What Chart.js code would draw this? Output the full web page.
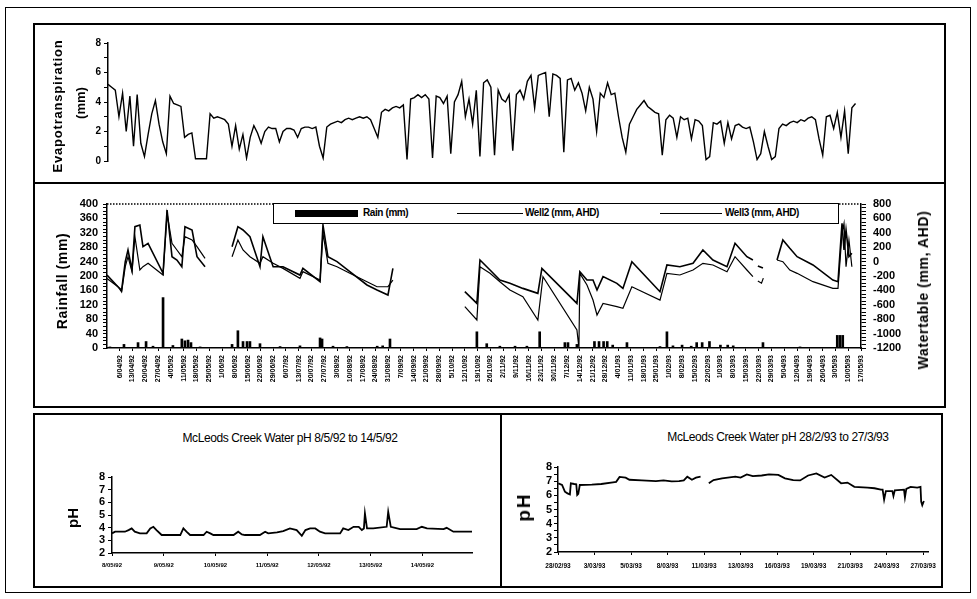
<!DOCTYPE html>
<html>
<head>
<meta charset="utf-8">
<title>Evapotranspiration, rainfall, watertable and creek pH</title>
<script src="https://cdn.jsdelivr.net/npm/chart.js@4.4.1/dist/chart.umd.min.js"></script>
<style>
  html, body { margin: 0; padding: 0; background: #fff; }
  #page { position: relative; width: 977px; height: 599px; overflow: hidden; color: #000;
    font-family: "Liberation Sans", Arial, Helvetica, sans-serif; }
  .frame { position: absolute; border: 2px solid #000; box-sizing: border-box; }
  .box { position: absolute; }
  .vlabel { position: absolute; transform: translate(-50%, -50%) rotate(-90deg); white-space: nowrap; font-weight: bold; }
  .title { position: absolute; transform: translate(-50%, -50%); white-space: nowrap; font-size: 12px; letter-spacing: -0.4px; }
  #legend { position: absolute; z-index: 2; left: 273px; top: 203px; width: 566px; height: 21px;
    border: 1.5px solid #000; box-sizing: border-box; background: #fff; }
  #legend .sw { position: absolute; background: #000; }
  #legend .lt { position: absolute; top: 3px; font-size: 10px; font-weight: bold; letter-spacing: -0.4px; white-space: nowrap; }
</style>
</head>
<body>
<div id="page">
  <div class="frame" style="left:5px;top:7px;width:966px;height:586px;border-width:1.5px"></div>
  <div class="frame" style="left:33px;top:23px;width:913px;height:161px"></div>
  <div class="frame" style="left:33px;top:182px;width:913px;height:226px"></div>
  <div class="frame" style="left:33px;top:413px;width:469px;height:175px"></div>
  <div class="frame" style="left:500px;top:413px;width:443px;height:175px"></div>

  <div class="box" style="left:33px;top:23px;width:913px;height:160px"><canvas id="etChart"></canvas></div>
  <div class="box" style="left:33px;top:183px;width:913px;height:225px"><canvas id="wellChart"></canvas></div>
  <div class="box" style="left:35px;top:450px;width:463px;height:135px"><canvas id="phMayChart"></canvas></div>
  <div class="box" style="left:502px;top:450px;width:441px;height:135px"><canvas id="phMarChart"></canvas></div>

  <div class="vlabel" style="left:57px;top:106px;font-size:13px;letter-spacing:0.8px">Evapotranspiration</div>
  <div class="vlabel" style="left:80px;top:103px;font-size:13px">(mm)</div>
  <div class="vlabel" style="left:62px;top:281px;font-size:14px;letter-spacing:0.6px">Rainfall (mm)</div>
  <div class="vlabel" style="left:923px;top:290px;font-size:14px;letter-spacing:0.6px">Watertable (mm, AHD)</div>
  <div class="vlabel" style="left:72px;top:518px;font-size:15px">pH</div>
  <div class="vlabel" style="left:524px;top:507px;font-size:19px;letter-spacing:2px">pH</div>

  <div class="title" style="left:290px;top:438px">McLeods Creek Water pH 8/5/92 to 14/5/92</div>
  <div class="title" style="left:778px;top:437px">McLeods Creek Water pH 28/2/93 to 27/3/93</div>

  <div id="legend">
    <div class="sw" style="left:21px;top:6px;width:63px;height:7px"></div>
    <div class="lt" style="left:89px">Rain (mm)</div>
    <div class="sw" style="left:183px;top:8.5px;width:66px;height:1.5px"></div>
    <div class="lt" style="left:251px">Well2 (mm, AHD)</div>
    <div class="sw" style="left:386px;top:8.5px;width:62px;height:1px"></div>
    <div class="lt" style="left:451px">Well3 (mm, AHD)</div>
  </div>
</div>

<script>
// ---- data (days counted from the left edge of the two upper panels) ----
const dayMax = 413;
const etStepDays = 2;

// daily evapotranspiration, one reading every 2 days (mm)
const etValues = [
  5.2, 5.0, 4.8, 3.0, 4.6, 2.0, 4.4, 1.0, 4.5, 1.2, 0.3,
  1.8, 3.2, 4.1, 2.5, 1.3, 0.5, 4.4, 3.9, 3.8, 3.7,
  1.6, 1.8, 1.9, 0.15, 0.15, 0.15, 0.15, 3.2, 2.9, 3.0,
  2.9, 2.8, 2.5, 1.0, 2.4, 0.8, 1.8, 0.2, 1.6, 2.4,
  1.9, 1.2, 2.0, 2.3, 2.2, 2.2, 1.3, 2.0, 2.2, 2.2,
  2.1, 1.6, 2.2, 2.3, 2.3, 2.2, 2.3, 1.0, 0.2, 2.3,
  2.5, 2.6, 2.7, 2.6, 2.8, 2.9, 2.8, 2.9, 3.0, 2.9,
  3.0, 2.8, 2.2, 1.6, 3.3, 3.5, 3.4, 3.6, 3.7, 3.6,
  3.8, 0.1, 4.2, 4.3, 4.5, 4.3, 4.5, 4.2, 0.2, 4.4,
  4.3, 3.9, 4.4, 0.5, 4.0, 4.5, 5.4, 3.0, 4.2, 2.5,
  4.8, 0.3, 5.3, 5.5, 5.0, 0.4, 4.8, 4.2, 4.0, 4.5,
  0.7, 4.5, 4.8, 4.2, 5.4, 5.8, 3.6, 5.8, 5.9, 6.0,
  3.0, 5.9, 5.8, 5.6, 0.6, 5.5, 5.6, 4.8, 5.3, 4.6,
  3.4, 5.0, 4.2, 2.0, 4.6, 4.3, 5.3, 4.5, 4.6, 3.0,
  1.6, 0.6, 2.5, 3.0, 3.5, 3.8, 4.1, 3.7, 3.5, 3.3,
  3.2, 0.4, 2.8, 3.1, 2.9, 1.6, 3.0, 2.8, 2.9, 1.5,
  2.8, 2.7, 2.4, 0.1, 0.3, 2.6, 2.5, 2.7, 1.2, 2.6,
  1.5, 2.4, 2.5, 2.3, 2.2, 2.3, 1.3, 0.1, 0.5, 2.0,
  1.0, 0.1, 0.3, 2.2, 2.5, 2.4, 2.6, 2.7, 2.6, 2.8,
  2.7, 2.9, 3.0, 2.8, 1.5, 0.4, 3.0, 3.1, 2.2, 3.3,
  1.6, 3.4, 0.5, 3.6, 3.9
];

// weekly tick labels of the rainfall / watertable panel
const weekLabels = [
  "6/04/92", "13/04/92", "20/04/92", "27/04/92", "4/05/92", "11/05/92", "18/05/92", "25/05/92",
  "1/06/92", "8/06/92", "15/06/92", "22/06/92", "29/06/92", "6/07/92", "13/07/92", "20/07/92",
  "27/07/92", "3/08/92", "10/08/92", "17/08/92", "24/08/92", "31/08/92", "7/09/92", "14/09/92",
  "21/09/92", "28/09/92", "5/10/92", "12/10/92", "19/10/92", "26/10/92", "2/11/92", "9/11/92",
  "16/11/92", "23/11/92", "30/11/92", "7/12/92", "14/12/92", "21/12/92", "28/12/92", "4/01/93",
  "11/01/93", "18/01/93", "25/01/93", "1/02/93", "8/02/93", "15/02/93", "22/02/93", "1/03/93",
  "8/03/93", "15/03/93", "22/03/93", "29/03/93", "5/04/93", "12/04/93", "19/04/93", "26/04/93",
  "3/05/93", "10/05/93", "17/05/93"
];

// [day, rain mm]
const rainfall = [
  [1.6, 3], [9.3, 10], [17, 15], [21.4, 18], [25.2, 5], [30.7, 140], [36.1, 7], [41, 25],
  [42.7, 20], [44.4, 22], [46, 15], [51, 3], [68.5, 10], [71.7, 48], [74.5, 18], [76.7, 18],
  [78.3, 18], [83.8, 12], [94.8, 4], [105.7, 6], [116.7, 28], [117.8, 25], [123.8, 5], [131.4, 4],
  [148, 5], [151, 6], [155, 25], [202.6, 45], [208, 12], [215.2, 5], [223.5, 5], [230, 5],
  [237, 45], [250.8, 15], [252.5, 15], [257.4, 10], [267, 18], [269.5, 18], [272, 18], [274, 18],
  [277, 8], [284.8, 15], [302.9, 4], [306.7, 45], [310, 6], [315, 8], [320, 5], [323, 15],
  [326, 15], [330, 18], [336, 8], [340, 8], [343, 6], [359.3, 15], [379.6, 3], [400, 35],
  [401.5, 35], [403, 35]
];

// [day, watertable mm AHD]; null marks a gap in the record
const well2 = [
  [0, -187], [6, -349], [8, -395], [10, -1], [11.5, 161], [13.7, -117], [15.3, 485], [18, 508],
  [19.7, 207], [22.5, 254], [30.7, -163], [32.9, 717], [35.6, 68], [38.3, 22], [41, -71], [42.7, 485],
  [46.6, 439], [49.3, 68], [53.7, -71], [61, null],
  [68.5, 207], [71.7, 485], [74.5, 439], [78.3, 346], [83.8, -71], [85.4, 346], [91, -71], [96.4, -71],
  [105.7, -187], [107.3, -94], [116.7, -279], [118.3, 508], [121, 68], [126, -1], [133, -140],
  [142.4, -325], [147.9, -395], [153.9, -464], [156.6, -94], [175, null],
  [196, -418], [202.6, -580], [204.3, 22], [209.8, -117], [215.2, -256], [220.7, -302], [227.8, -372],
  [236, -441], [238.2, -94], [257.4, -580], [259, -140], [262.9, -256], [266.2, -256], [268.4, -395],
  [271.7, -209], [279.3, -302], [282.6, -372], [287.5, -1], [302.9, -418], [306.7, -47], [313.8, -71],
  [321, -24], [326.4, 161], [331.9, 22], [339.6, -71], [344, 254], [350.5, 68], [353.8, 22],
  [355.5, null], [356.5, -60], [359.3, -90], [362, null],
  [367, 22], [370.2, 300], [374, 184], [378, 68], [386.7, -47], [397.6, -256], [400.4, -279],
  [402.6, 531], [403.7, 161], [404.8, 439], [406.4, 68], [408, 115]
];

const well3 = [
  [0, -233], [6, -349], [8, -420], [10, -71], [11.5, 68], [13.7, -140], [15.3, 346], [18, -117],
  [19.7, -71], [22.5, -24], [30.7, -186], [32.9, 670], [35.6, 254], [38.3, 161], [41, 68], [42.7, 346],
  [46.6, 300], [49.3, 207], [53.7, 45], [61, null],
  [68.5, 68], [71.7, 300], [74.5, 161], [78.3, 68], [83.8, -24], [85.4, 68], [91, -24], [96.4, -94],
  [105.7, -233], [107.3, -140], [116.7, -256], [118.3, 392], [121, -24], [126, -71], [133, -163],
  [142.4, -279], [147.9, -349], [153.9, -349], [156.6, -256], [175, null],
  [196, -626], [202.6, -811], [204.3, -71], [209.8, -163], [215.2, -279], [220.7, -395], [227.8, -488],
  [236, -811], [238.8, -210], [257.4, -950], [258.5, -1200], [259, -163], [262.9, -325], [266.2, -534],
  [268.4, -742], [271.7, -580], [279.3, -626], [282.6, -649], [287.5, -349], [302.9, -534], [306.7, -163],
  [313.8, -186], [321, -117], [326.4, -24], [331.9, -47], [339.6, -140], [344, 68], [350.5, -117],
  [353.8, -210], [355.5, null], [356.5, -270], [358.5, -300], [359.5, -230], [362, null],
  [367, 22], [370.2, -1], [374, -117], [378, -163], [386.7, -279], [397.6, -372], [400.4, -372],
  [402.6, 392], [403.7, 531], [404.8, -71], [406.4, 300], [408, -71]
];

// pH 8/5/92 - 14/5/92, [day from 8/5/92, pH]
const phMayLabels = ["8/05/92", "9/05/92", "10/05/92", "11/05/92", "12/05/92", "13/05/92", "14/05/92"];
const phMay = [
  [0, 3.55], [0.06, 3.68], [0.25, 3.68], [0.32, 3.81], [0.38, 3.94], [0.44, 3.68], [0.54, 3.55],
  [0.67, 3.55], [0.74, 3.94], [0.8, 4.07], [0.86, 3.81], [0.96, 3.42], [1.32, 3.42], [1.38, 3.94],
  [1.44, 3.68], [1.51, 3.42], [1.77, 3.42], [1.83, 3.68], [1.9, 3.55], [1.96, 3.42], [2.35, 3.42],
  [2.44, 3.68], [2.51, 3.47], [2.57, 3.42], [2.86, 3.42], [2.96, 3.68], [3.02, 3.55], [3.19, 3.63],
  [3.31, 3.73], [3.44, 3.94], [3.57, 3.81], [3.67, 3.36], [3.74, 3.81], [3.83, 3.94], [3.93, 3.94],
  [4.02, 3.68], [4.12, 3.55], [4.41, 3.55], [4.47, 3.94], [4.57, 3.81], [4.67, 4.07], [4.77, 4.07],
  [4.83, 3.81], [4.87, 3.94], [4.89, 5.12], [4.93, 3.94], [5.05, 3.94], [5.31, 4.07], [5.34, 5.25],
  [5.39, 4.07], [5.57, 3.89], [5.89, 3.89], [5.99, 4.07], [6.09, 3.94], [6.41, 3.89], [6.47, 3.99],
  [6.6, 3.68], [6.96, 3.68]
];

// pH 28/2/93 - 27/3/93, [day from 28/2/93, pH]
const phMarLabels = ["28/02/93", "3/03/93", "5/03/93", "8/03/93", "11/03/93", "13/03/93",
  "16/03/93", "19/03/93", "21/03/93", "24/03/93", "27/03/93"];
const phMarch = [
  [0.02, 6.85], [0.3, 6.73], [0.51, 6.26], [0.7, 6.14], [0.88, 6.07], [0.95, 6.85], [1.2, 6.8],
  [1.35, 6.78], [1.42, 6.02], [1.5, 6.1], [1.61, 6.73], [2.5, 6.75], [3.2, 6.8], [4.06, 6.92],
  [4.3, 6.95], [4.55, 7.3], [5.0, 7.25], [5.28, 7.1], [6.2, 7.05], [7.24, 7.01], [7.8, 7.05],
  [8.4, 6.98], [8.95, 7.0], [9.3, 7.05], [9.56, 7.32], [9.9, 7.1], [10.2, 7.25], [10.54, 7.32],
  [10.8, null],
  [11.15, 6.85], [11.5, 7.08], [12.13, 7.2], [13.11, 7.32], [13.5, 7.25], [13.96, 7.48], [14.4, 7.35],
  [15.06, 7.4], [15.6, 7.48], [16.29, 7.44], [16.78, 7.2], [17.39, 7.08], [17.9, 7.05], [18.49, 7.4],
  [19.1, 7.55], [19.71, 7.25], [20.2, 7.44], [20.93, 6.85], [21.4, 6.9], [21.91, 6.6], [22.89, 6.55],
  [23.4, 6.5], [23.87, 6.4], [24.0, 6.4], [24.11, 5.7], [24.24, 6.3], [24.72, 6.3], [24.8, 5.95],
  [24.9, 6.35], [25.58, 6.4], [25.65, 5.85], [25.75, 6.45], [26.07, 6.6], [26.56, 6.55], [26.8, 6.6],
  [26.85, 5.55], [26.93, 5.3], [27.05, 5.6]
];
const phMarStep = 2.7;

// ---- chart setup ----
const black = "#000";
const font = "'Liberation Sans', Arial, Helvetica, sans-serif";
Chart.defaults.font.family = font;
Chart.defaults.color = black;

function pts(pairs) {
  return pairs.map(([x, y]) => ({ x, y }));
}

function boldFont(size) {
  return { family: font, size, weight: "bold" };
}

function baseOptions(padding) {
  return {
    responsive: true,
    maintainAspectRatio: false,
    animation: false,
    layout: { padding },
    plugins: { legend: { display: false }, tooltip: { enabled: false } },
    elements: { point: { radius: 0 }, line: { tension: 0 } },
  };
}

// value axis: ticks every `step`, labels only on multiples of `every`
function yAxis(o) {
  return {
    position: o.position || "left",
    min: o.min,
    max: o.max,
    afterFit: (s) => { s.width = o.width; },
    border: { display: true, color: black, width: 1.5 },
    grid: { drawOnChartArea: false, color: black, tickLength: o.tickLength || 4 },
    ticks: {
      stepSize: o.step,
      autoSkip: false,
      color: black,
      padding: o.padding == null ? 3 : o.padding,
      font: boldFont(o.size),
      callback: (v) => (Math.abs(v % o.every) < 1e-6 ? String(v) : ""),
    },
  };
}

// date axis: one tick per label, placed at `at(i)`
function xAxis(o) {
  return {
    type: "linear",
    min: 0,
    max: o.max,
    offset: false,
    afterFit: (s) => { s.height = o.height; },
    afterBuildTicks: (s) => { s.ticks = o.labels.map((_, i) => ({ value: o.at(i) })); },
    border: { color: black, width: 1.5 },
    grid: { drawOnChartArea: false, color: black, tickLength: 3, offset: false },
    ticks: {
      autoSkip: false,
      minRotation: o.rotation || 0,
      maxRotation: o.rotation || 0,
      color: black,
      padding: o.padding,
      font: boldFont(o.size),
      callback: (v, i) => o.labels[i],
    },
  };
}

// dotted top edge of the rainfall plot area
const topDots = {
  id: "topDots",
  afterDraw(chart) {
    const { ctx, chartArea: a } = chart;
    ctx.save();
    ctx.strokeStyle = black;
    ctx.lineWidth = 1.5;
    ctx.setLineDash([1.5, 1.5]);
    ctx.beginPath();
    ctx.moveTo(a.left, a.top);
    ctx.lineTo(a.right, a.top);
    ctx.stroke();
    ctx.restore();
  },
};

// evapotranspiration
new Chart(document.getElementById("etChart"), {
  type: "line",
  data: {
    datasets: [{
      label: "Evapotranspiration (mm)",
      data: etValues.map((v, i) => ({ x: i * etStepDays, y: v })),
      borderColor: black,
      borderWidth: 1.4,
    }],
  },
  options: Object.assign(baseOptions({ top: 20, bottom: 22, right: 85, left: 0 }), {
    scales: {
      x: { type: "linear", min: 0, max: dayMax, display: false },
      y: yAxis({ min: 0, max: 8, step: 1, every: 2, width: 75, size: 10 }),
    },
  }),
});

// rainfall and watertable
new Chart(document.getElementById("wellChart"), {
  type: "bar",
  data: {
    datasets: [
      { type: "bar", label: "Rain (mm)", data: pts(rainfall), yAxisID: "y",
        backgroundColor: black, barThickness: 2, order: 3 },
      { type: "line", label: "Well2 (mm, AHD)", data: pts(well2), yAxisID: "y1",
        borderColor: black, borderWidth: 1.6, spanGaps: false, order: 1 },
      { type: "line", label: "Well3 (mm, AHD)", data: pts(well3), yAxisID: "y1",
        borderColor: black, borderWidth: 1.2, spanGaps: false, order: 2 },
    ],
  },
  options: Object.assign(baseOptions({ top: 21, bottom: 0, right: 0, left: 0 }), {
    scales: {
      x: xAxis({ max: dayMax, labels: weekLabels, at: (i) => (i + 1) * 7, height: 60,
        size: 7, padding: 4, rotation: 90 }),
      y: yAxis({ min: 0, max: 400, step: 10, every: 40, width: 74, size: 11, padding: 5 }),
      y1: yAxis({ position: "right", min: -1200, max: 800, step: 50, every: 200, width: 85,
        size: 11, padding: 7, tickLength: 5 }),
    },
  }),
  plugins: [topDots],
});

// pH, May 1992
new Chart(document.getElementById("phMayChart"), {
  type: "line",
  data: {
    datasets: [{ label: "pH", data: pts(phMay), borderColor: black, borderWidth: 1.8 }],
  },
  options: Object.assign(baseOptions({ top: 27, bottom: 0, right: 26, left: 0 }), {
    scales: {
      x: xAxis({ max: 6.96, labels: phMayLabels, at: (i) => i, height: 32, size: 6, padding: 6 }),
      y: yAxis({ min: 2, max: 8, step: 1, every: 1, width: 77, size: 11 }),
    },
  }),
});

// pH, March 1993
new Chart(document.getElementById("phMarChart"), {
  type: "line",
  data: {
    datasets: [{ label: "pH", data: pts(phMarch), borderColor: black, borderWidth: 1.8, spanGaps: false }],
  },
  options: Object.assign(baseOptions({ top: 17, bottom: 0, right: 10, left: 0 }), {
    scales: {
      x: xAxis({ max: 27.4, labels: phMarLabels, at: (i) => i * phMarStep, height: 33, size: 6.5, padding: 7 }),
      y: yAxis({ min: 2, max: 8, step: 0.5, every: 1, width: 56, size: 11, padding: 2 }),
    },
  }),
});
</script>
</body>
</html>
